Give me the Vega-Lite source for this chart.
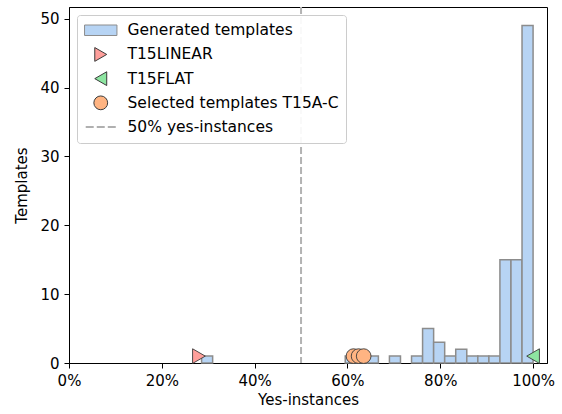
{
  "$schema": "https://vega.github.io/schema/vega-lite/v6.json",
  "width": 478,
  "height": 356,
  "autosize": {"type": "none"},
  "padding": {"left": 69, "top": 7, "right": 15, "bottom": 51},
  "background": "white",
  "datasets": {
    "bins": [
      {"start": 28.571, "end": 30.952, "count": 1},
      {"start": 59.524, "end": 61.905, "count": 1},
      {"start": 61.905, "end": 64.286, "count": 1},
      {"start": 64.286, "end": 66.667, "count": 1},
      {"start": 69.048, "end": 71.429, "count": 1},
      {"start": 73.810, "end": 76.190, "count": 1},
      {"start": 76.190, "end": 78.571, "count": 5},
      {"start": 78.571, "end": 80.952, "count": 3},
      {"start": 80.952, "end": 83.333, "count": 1},
      {"start": 83.333, "end": 85.714, "count": 2},
      {"start": 85.714, "end": 88.095, "count": 1},
      {"start": 88.095, "end": 90.476, "count": 1},
      {"start": 90.476, "end": 92.857, "count": 1},
      {"start": 92.857, "end": 95.238, "count": 15},
      {"start": 95.238, "end": 97.619, "count": 15},
      {"start": 97.619, "end": 100.0, "count": 49}
    ],
    "markers": [
      {"series": "T15LINEAR", "pct": 28.0, "templates": 1},
      {"series": "T15FLAT", "pct": 100.0, "templates": 1},
      {"series": "Selected templates T15A-C", "pct": 61.3, "templates": 1},
      {"series": "Selected templates T15A-C", "pct": 62.4, "templates": 1},
      {"series": "Selected templates T15A-C", "pct": 63.5, "templates": 1}
    ],
    "threshold": [{"pct": 50}]
  },
  "config": {
    "font": "DejaVu Sans",
    "view": {"stroke": "black", "strokeWidth": 1},
    "axis": {
      "grid": false,
      "domainColor": "black",
      "domainWidth": 1,
      "tickColor": "black",
      "tickSize": 5,
      "tickWidth": 1,
      "labelColor": "black",
      "labelFontSize": 15,
      "labelFont": "DejaVu Sans",
      "labelFlush": false,
      "labelOverlap": false,
      "titleColor": "black",
      "titleFontSize": 15,
      "titleFont": "DejaVu Sans",
      "titleFontWeight": "normal",
      "labelPadding": 5
    },
    "legend": {
      "orient": "top-left",
      "offset": 8,
      "padding": 7,
      "fillColor": "rgba(255,255,255,0.92)",
      "strokeColor": "#cccccc",
      "cornerRadius": 3,
      "labelFontSize": 15.5,
      "labelFont": "DejaVu Sans",
      "labelColor": "black",
      "labelLimit": 400,
      "symbolSize": 190,
      "symbolOffset": 9,
      "labelOffset": 19,
      "rowPadding": 7.2,
      "clipHeight": 16.5,
      "symbolStrokeWidth": 1,
      "symbolOpacity": 1
    }
  },
  "layer": [
    {
      "data": {"name": "bins"},
      "mark": {"type": "rect", "fill": "#b7d4f4", "stroke": "#8c8c8c", "strokeWidth": 1.5, "opacity": 1},
      "encoding": {
        "x": {
          "field": "start",
          "type": "quantitative",
          "scale": {"domain": [0, 103], "nice": false, "zero": false},
          "axis": {
            "values": [0, 20, 40, 60, 80, 100],
            "labelExpr": "datum.value + '%'",
            "title": "Yes-instances",
            "titlePadding": 4
          }
        },
        "x2": {"field": "end"},
        "y": {
          "field": "count",
          "type": "quantitative",
          "scale": {"domain": [0, 51.7], "nice": false},
          "axis": {"values": [0, 10, 20, 30, 40, 50], "title": "Templates", "titlePadding": 10}
        },
        "y2": {"datum": 0}
      }
    },
    {
      "data": {"name": "threshold"},
      "mark": {"type": "rule", "color": "#b3b3b3", "strokeWidth": 2, "strokeDash": [7, 3]},
      "encoding": {
        "x": {"field": "pct", "type": "quantitative"}
      }
    },
    {
      "data": {"name": "markers"},
      "mark": {"type": "point", "filled": true, "opacity": 1, "size": 215, "strokeWidth": 0.9},
      "encoding": {
        "x": {"field": "pct", "type": "quantitative"},
        "y": {"field": "templates", "type": "quantitative"},
        "fill": {
          "field": "series",
          "type": "nominal",
          "scale": {
            "domain": ["Generated templates", "T15LINEAR", "T15FLAT", "Selected templates T15A-C", "50% yes-instances"],
            "range": ["#b7d4f4", "#ff9f9b", "#8de5a1", "#ffb482", "#b0b0b0"]
          },
          "legend": {"title": null}
        },
        "stroke": {
          "field": "series",
          "type": "nominal",
          "scale": {
            "domain": ["Generated templates", "T15LINEAR", "T15FLAT", "Selected templates T15A-C", "50% yes-instances"],
            "range": ["#8c8c8c", "#3a3a3a", "#3a3a3a", "#3a3a3a", "transparent"]
          },
          "legend": {"title": null}
        },
        "shape": {
          "field": "series",
          "type": "nominal",
          "scale": {
            "domain": ["Generated templates", "T15LINEAR", "T15FLAT", "Selected templates T15A-C", "50% yes-instances"],
            "range": [
              "M-2.35,-0.76H2.35V0.76H-2.35Z",
              "triangle-right",
              "triangle-left",
              "circle",
              "M-2.18,-0.14H-1.02V0.14H-2.18Z M-0.58,-0.14H0.58V0.14H-0.58Z M1.02,-0.14H2.18V0.14H1.02Z"
            ]
          },
          "legend": {"title": null}
        }
      }
    }
  ]
}
